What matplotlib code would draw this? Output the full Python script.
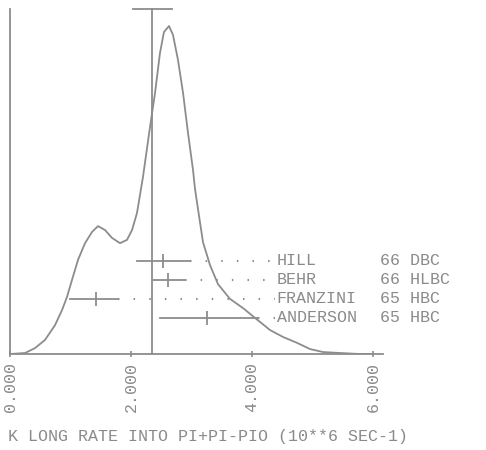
import matplotlib
matplotlib.use('Agg')
import matplotlib.pyplot as plt

GRAY = '#8c8c8c'
TEXTGRAY = '#8a8a8a'
FONT = 'Liberation Mono'
TEXTSIZE = 12

# distribution curve (arbitrary units, peak = 100)
RATE = [0.000, 0.248, 0.413, 0.579, 0.744, 0.860, 0.942, 1.025, 1.124, 1.240,
        1.355, 1.455, 1.570, 1.686, 1.818, 1.934, 2.017, 2.099, 2.198, 2.314,
        2.397, 2.479, 2.545, 2.628, 2.694, 2.777, 2.860, 2.942, 3.025, 3.058,
        3.107, 3.190, 3.306, 3.438, 3.636, 3.851, 4.050, 4.298, 4.512, 4.744,
        4.959, 5.174, 5.455, 5.785, 6.000]
EVENTS = [0.0, 0.3, 1.8, 4.3, 8.8, 13.4, 17.4, 22.6, 28.7, 33.8,
          37.2, 39.0, 37.8, 35.4, 33.8, 34.8, 37.8, 43.0, 54.0, 69.2,
          79.6, 91.8, 98.2, 100.0, 97.3, 89.6, 79.6, 67.4, 56.1, 50.3,
          44.2, 34.1, 27.1, 21.3, 16.8, 14.0, 11.0, 7.3, 5.2, 3.4,
          1.5, 0.6, 0.3, 0.0, 0.0]

# upper limit line
LIMIT = 2.347
LIMIT_CAP = (2.03, 2.68)

# measurements
NAMES = ['HILL', 'BEHR', 'FRANZINI', 'ANDERSON']
EXPTS = ['66 DBC', '66 HLBC', '65 HBC', '65 HBC']
VALUES = [2.53, 2.61, 1.42, 3.26]
ERR_LO = [2.10, 2.36, 0.99, 2.48]
ERR_HI = [2.98, 2.89, 1.79, 4.10]
ROWS = [28.4, 22.6, 16.8, 11.0]
NAME_X = 4.41
EXPT_X = 6.12

XTICKS = [0, 2, 4, 6]
XTICKLABELS = ['0.000', '2.000', '4.000', '6.000']
XLABEL = 'K LONG RATE INTO PI+PI-PIO (10**6 SEC-1)'

fig = plt.figure(figsize=[4.86, 4.5], dpi=100)
ax = fig.add_axes([10 / 486, 96 / 450, 373 / 486, 345 / 450])
ax.set_xlim(0, 6.165)
ax.set_ylim(0, 105.2)

ax.plot(RATE, EVENTS, color=GRAY, lw=1.3)

ax.plot([LIMIT, LIMIT], [0, 105.2], color=GRAY, lw=1.3, clip_on=False)
ax.plot(LIMIT_CAP, [105.2, 105.2], color=GRAY, lw=1.3, clip_on=False)

for name, expt, v, lo, hi, y in zip(NAMES, EXPTS, VALUES, ERR_LO, ERR_HI, ROWS):
    ax.plot([lo, hi], [y, y], color=GRAY, lw=1.3)
    ax.plot([v], [y], marker='|', ms=10, mew=1.3, color=GRAY)
    ax.plot([hi, NAME_X - 0.03], [y, y], color=GRAY, lw=1.5,
            linestyle=(0, (0.7, 6.8)))
    ax.text(NAME_X, y, name, fontfamily=FONT, fontsize=TEXTSIZE,
            color=TEXTGRAY, va='center', ha='left')
    ax.text(EXPT_X, y, expt, fontfamily=FONT, fontsize=TEXTSIZE,
            color=TEXTGRAY, va='center', ha='left', clip_on=False)

for side in ['top', 'right']:
    ax.spines[side].set_visible(False)
for side in ['left', 'bottom']:
    ax.spines[side].set_color(GRAY)
    ax.spines[side].set_linewidth(1.3)

ax.set_yticks([])
ax.set_xticks(XTICKS)
ax.set_xticklabels(XTICKLABELS, rotation=90, fontfamily=FONT,
                   fontsize=TEXTSIZE, color=TEXTGRAY)
ax.tick_params(axis='x', direction='inout', length=5, width=1.2,
               color=GRAY, pad=3)

fig.text(8 / 486, 1 - 436 / 450, XLABEL, fontfamily=FONT, fontsize=TEXTSIZE,
         color=TEXTGRAY, va='center', ha='left')

fig.savefig('out.png', dpi=100)
